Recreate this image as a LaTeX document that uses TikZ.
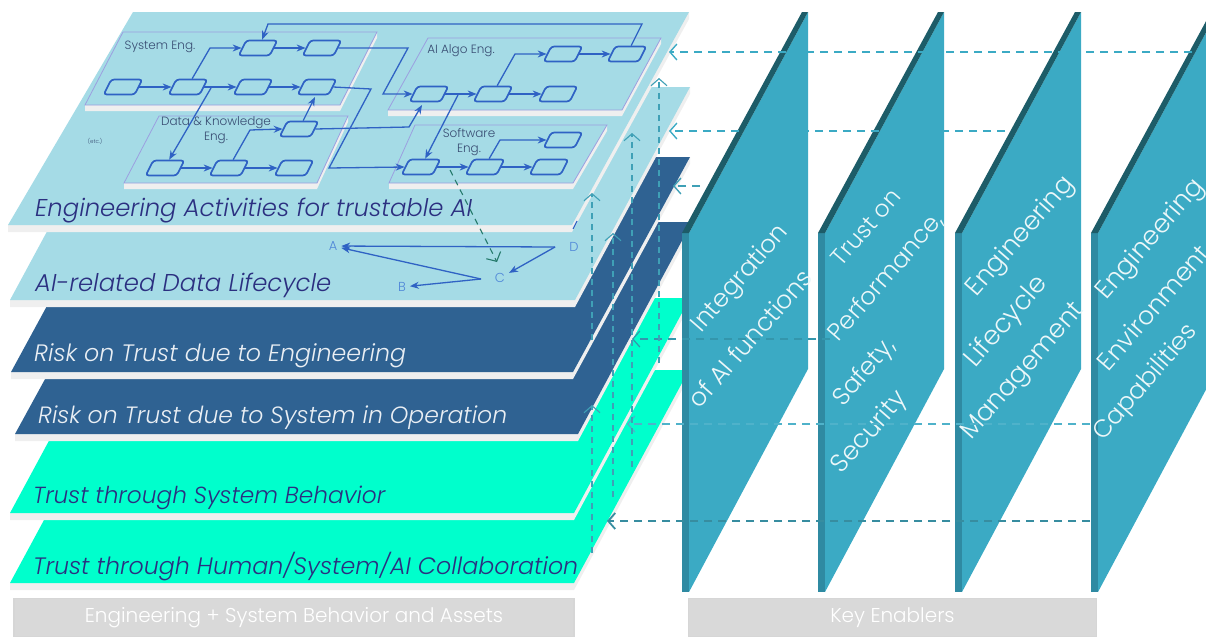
\documentclass[tikz,border=0pt]{standalone}
\usepackage{fontspec}
\setmainfont{Poppins}[UprightFont=* Light,ItalicFont=* Light Italic,BoldFont=*,BoldItalicFont=* Italic]
\usetikzlibrary{arrows.meta,calc}
\definecolor{lightlayer}{HTML}{A5DBE6}
\definecolor{bluelayer}{HTML}{2F6292}
\definecolor{greenlayer}{HTML}{00FFCC}
\definecolor{edgegray}{HTML}{EFEFEF}
\definecolor{navy}{HTML}{2B2F80}
\definecolor{panelmain}{HTML}{3BAAC4}
\definecolor{paneldark}{HTML}{2F8AA2}
\definecolor{paneltop}{HTML}{1D5C68}
\definecolor{planeline}{HTML}{9C9FE0}
\definecolor{procline}{HTML}{2F62C4}
\definecolor{dashline}{HTML}{3FA0B6}
\definecolor{abcd}{HTML}{4F86D8}
\newcommand\fitw[2]{\resizebox{#1pt}{!}{#2}}
% \layerplate{left}{bottom}{right}{topy}{topright}{topleft}{colour}
\newcommand\layerplate[7]{%
  \fill[edgegray] (#1,#2) -- (#1,#2+7) -- (#3,#2+7) -- (#5,#4+7) -- (#5,#4) -- cycle;
  \fill[#7] (#1,#2) -- (#3,#2) -- (#5,#4) -- (#6,#4) -- cycle;}
% \subplane{tlx}{trx}{topy}{brx}{blx}{boty}
\newcommand\subplane[6]{%
  \fill[edgegray] (#5,#6) -- (#5,#6+6) -- (#4,#6+6) -- (#2,#3+6) -- (#2,#3) -- cycle;
  \filldraw[fill=lightlayer,draw=planeline,line width=.8pt] (#1,#3) -- (#2,#3) -- (#4,#6) -- (#5,#6) -- cycle;}
\newcommand\enabler[1]{%
  \fill[panelmain,shift={(#1,0)}] (689,233) -- (808,12) -- (808,369) -- (689,592) -- cycle;
  \fill[paneldark,shift={(#1,0)}] (682,233) rectangle (689,592);
  \fill[paneltop,shift={(#1,0)}] (682,233) -- (802,12) -- (808,12) -- (689,233) -- cycle;}
\begin{document}
\begin{tikzpicture}[x=1pt,y=-1pt,
  proc/.style={draw=procline,line width=1.7pt,rounded corners=3pt,minimum width=31pt,minimum height=15pt,inner sep=0pt,xslant=.5,transform shape},
  flow/.style={draw=procline,line width=1.3pt,-{Stealth[length=9pt,width=7pt]}},
  lineonly/.style={draw=procline,line width=1.1pt},
  dashflow/.style={draw=dashline,line width=1.4pt,dash pattern=on 8pt off 6pt,-{Straight Barb[length=7pt,width=16pt]}},
  vdash/.style={dashflow,line width=1.1pt,dash pattern=on 6pt off 5pt},
  layertext/.style={anchor=base west,inner sep=0pt,font=\itshape\fontsize{24}{28}\selectfont},
  smalltext/.style={text=black!45!procline!70!gray,inner sep=0pt,align=center,font=\fontsize{12}{15}\selectfont},
  abcdtext/.style={text=abcd,inner sep=0pt,outer sep=4pt,font=\fontsize{13}{15}\selectfont},
  paneltext/.style={text=white!90!panelmain,rotate=49,inner sep=0pt,font=\fontsize{25}{30}\selectfont},
  footbox/.style={draw=white!68!gray,line width=1.2pt,fill=white!85!black,text=white,font=\fontsize{20}{24}\selectfont,inner sep=0pt}
]
\useasboundingbox (0,0) rectangle (1206,637);
\clip (0,0) rectangle (1206,637);
% layers, bottom first
\layerplate{10}{583}{574}{370}{689}{125}{greenlayer}
\layerplate{10}{513}{574}{298}{690}{126}{greenlayer}
\layerplate{15}{434}{578}{222}{692}{131}{bluelayer}
\layerplate{11}{372}{573}{157}{690}{128}{bluelayer}
\layerplate{10}{300}{575}{87}{690}{125}{lightlayer}
\layerplate{8}{225}{572}{12}{689}{133}{lightlayer}
% sub-planes
\subplane{123}{377}{32}{340}{85}{105}
\subplane{159}{348}{116}{317}{124}{183}
\subplane{428}{661}{38}{622}{388}{110}
\subplane{415}{607}{125}{573}{389}{183}
% sub-plane labels
\node[smalltext] (tsys) at (160,47) {System Eng.};
\node[smalltext] (tdata) at (216,130) {Data \& Knowledge\\Eng.};
\node[smalltext] (tai) at (461,51) {AI Algo Eng.};
\node[smalltext] (tsw) at (469,142) {Software\\Eng.};
\node[text=black!45!procline!70!gray,inner sep=0pt,font=\fontsize{5.5}{6}\selectfont] (tetc) at (95,141) {(etc.)};
% process nodes
\node[proc] (S1) at (123,87) {};
\node[proc] (S2) at (188,87) {};
\node[proc] (S3) at (253,87) {};
\node[proc] (S4) at (317,87) {};
\node[proc] (S5) at (258,48) {};
\node[proc] (S6) at (322,48) {};
\node[proc] (D1) at (165,168) {};
\node[proc] (D2) at (229,168) {};
\node[proc] (D3) at (294,168) {};
\node[proc] (D4) at (299,129) {};
\node[proc] (A1) at (429,94) {};
\node[proc] (A2) at (493,94) {};
\node[proc] (A3) at (558,94) {};
\node[proc] (A4) at (563,54) {};
\node[proc] (A5) at (627,54) {};
\node[proc] (W1) at (421,167) {};
\node[proc] (W2) at (485,167) {};
\node[proc] (W3) at (549,167) {};
\node[proc] (W4) at (563,140) {};
% process connectors
\foreach \a/\b in {S1/S2,S2/S3,S3/S4,S5/S6,D1/D2,D2/D3,A1/A2,A2/A3,A4/A5,W1/W2,W2/W3}
  \draw[flow] (\a.east) -- (\b.west);
\draw[flow] (S2.north) -- (210,48) -- (S5.west);
\coordinate (j1) at (211,88);
\draw[flow] (j1) -- (D1.north);
\draw[flow] (S4.east) -- (371,89) -- (329,168) -- (W1.west);
\draw[flow] (S6.east) -- (408,48) -- (383,94) -- (A1.west);
\draw[flow] (D4.north) -- (315,97);
\draw[flow] (D2.north) -- (250,130) -- (D4.west);
\draw[flow] (D4.east) -- (409,127) -- (422,105);
\draw[flow] (A2.north) -- (515,54) -- (A4.west);
\draw[flow] (A5.north) -- (642,24) -- (268,24) -- (S5.north);
\coordinate (j2) at (458,95);
\draw[flow] (j2) -- (W1.north);
\draw[flow] (W2.north) -- (500,140) -- (W4.west);
% ABCD
\node[abcdtext] (nA) at (333,246) {A};
\node[abcdtext] (nB) at (402,287) {B};
\node[abcdtext] (nC) at (500,278) {C};
\node[abcdtext] (nD) at (574,247) {D};
\coordinate (fromD) at (555,247);
\coordinate (fromC) at (481,279);
\draw[flow] (fromD) -- (nA);
\draw[flow] (fromC) -- (nA);
\draw[flow] (fromC) -- (nB);
\draw[flow] (fromD) -- (nC);
\draw[lineonly] (573,229) -- (577,221);
% layer titles
\node[layertext,text=navy] (L1) at (35,216) {\fitw{437}{Engineering Activities for trustable AI}};
\node[layertext,text=navy] (L2) at (35,291) {\fitw{296}{AI-related Data Lifecycle}};
\node[layertext,text=white!90!bluelayer] (L3) at (34,361) {\fitw{372}{Risk on Trust due to Engineering}};
\node[layertext,text=white!90!bluelayer] (L4) at (38,423) {\fitw{469}{Risk on Trust due to System in Operation}};
\node[layertext,text=navy] (L5) at (33,503) {\fitw{352}{Trust through System Behavior}};
\node[layertext,text=navy] (L6) at (33,574) {\fitw{545}{Trust through Human/System/AI Collaboration}};
% enablers
\enabler{0}
\enabler{136}
\enabler{273}
\enabler{409}
\node[paneltext] (P1a) at (741,279) {\fitw{133}{Integration}};
\node[paneltext] (P1b) at (750,338) {\fitw{174}{of AI functions}};
\node[paneltext] (P2a) at (866,227) {\fitw{92}{Trust on}};
\node[paneltext] (P2b) at (886,277) {\fitw{161}{Performance,}};
\node[paneltext] (P2c) at (865,373) {\fitw{81}{Safety,}};
\node[paneltext] (P2d) at (870,433) {\fitw{100}{Security}};
\node[paneltext] (P3a) at (1021,237) {\fitw{149}{Engineering}};
\node[paneltext] (P3b) at (1007,322) {\fitw{111}{Lifecycle}};
\node[paneltext] (P3c) at (1024,372) {\fitw{173}{Management}};
\node[paneltext] (P4a) at (1151,240) {\fitw{150}{Engineering}};
\node[paneltext] (P4b) at (1153,307) {\fitw{156}{Environment}};
\node[paneltext] (P4c) at (1146,383) {\fitw{145}{Capabilities}};
% horizontal dashed links
\coordinate (h1s) at (1206,52); \coordinate (h1e) at (669,52);
\coordinate (h2s) at (1005,131); \coordinate (h2e) at (669,131);
\coordinate (h3s) at (700,186); \coordinate (h3e) at (673,186);
\coordinate (h4s) at (830,339); \coordinate (h4e) at (632,339);
\coordinate (h5s) at (1090,424); \coordinate (h5e) at (627,424);
\coordinate (h6s) at (1090,521); \coordinate (h6e) at (607,521);
\draw[dashflow,draw=panelmain] (h1s) -- (h1e);
\draw[dashflow,draw=panelmain] (h2s) -- (h2e);
\draw[dashflow] (h3s) -- (h3e);
\draw[dashflow,draw=panelmain!88!black,line width=1.2pt] (h4s) -- (h4e);
\draw[dashflow,draw=panelmain!90!white,line width=1.2pt] (h5s) -- (h5e);
\draw[dashflow,draw=dashline!88!black,line width=1.8pt] (h6s) -- (h6e);
% vertical dashed links
\coordinate (v1s) at (592,553); \coordinate (v1e) at (592,405);
\coordinate (v1t) at (592,340); \coordinate (v1u) at (592,193);
\coordinate (v2s) at (613,497); \coordinate (v2e) at (613,233);
\coordinate (v3s) at (632,467); \coordinate (v3e) at (632,133);
\coordinate (v4s) at (659,363); \coordinate (v4e) at (659,78);
\coordinate (d1s) at (450,170); \coordinate (d1e) at (497,262);
\draw[vdash] (v1s) -- (v1e);
\draw[vdash] (v1t) -- (v1u);
\draw[vdash] (v2s) -- (v2e);
\draw[vdash] (v3s) -- (v3e);
\draw[vdash] (v4s) -- (v4e);
\draw[vdash,draw=dashline!85!green!70!black] (d1s) -- (d1e);
% footer boxes
\node[footbox,minimum width=560pt,minimum height=38pt] (F1) at (294,617.5) {Engineering + System Behavior and Assets};
\node[footbox,minimum width=408pt,minimum height=38pt] (F2) at (892.5,617.5) {Key Enablers};
\end{tikzpicture}
\end{document}
